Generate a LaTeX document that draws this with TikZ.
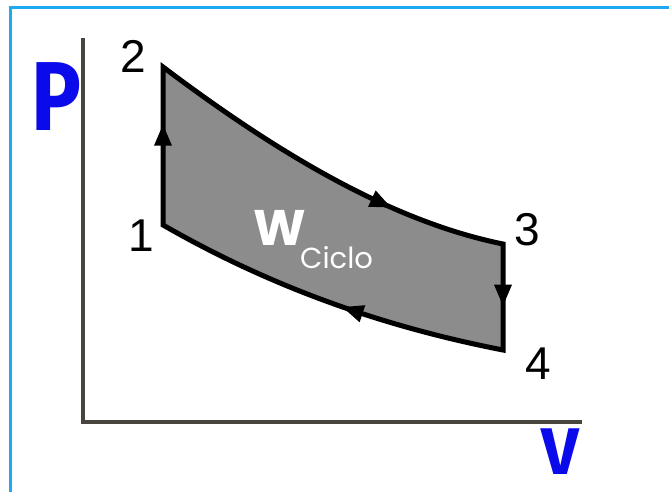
\documentclass[tikz,border=0pt]{standalone}
\usepackage{fontspec}
\setmainfont{Liberation Sans}
\newfontfamily\axisfont{Fira Sans}
\newfontfamily\wfont{Poppins}
\usetikzlibrary{shapes.geometric}
\definecolor{framecol}{RGB}{30,170,240}
\definecolor{cyclegray}{RGB}{140,140,140}
\definecolor{axiscol}{RGB}{72,68,62}
\definecolor{axisblue}{RGB}{10,10,235}
\tikzset{
  framestyle/.style={draw=framecol,line width=3pt},
  axisline/.style={draw=axiscol,line width=3.2pt},
  cycleline/.style={draw=black,line width=5pt,line join=miter},
  cyclefill/.style={fill=cyclegray},
  arrowtri/.style={isosceles triangle,isosceles triangle stretches,fill=black,
    minimum width=18pt,minimum height=21pt,inner sep=0pt,sloped,allow upside down},
  numlabel/.style={inner sep=0pt,font=\fontsize{46}{46}\selectfont},
  axislabel/.style={inner sep=0pt,text=axisblue},
  wlabel/.style={inner sep=0pt,text=white}
}
\begin{document}
\begin{tikzpicture}[x=1pt,y=-1pt]
\useasboundingbox (0,0) rectangle (669,492);
\fill[white] (0,0) rectangle (669,492);
\draw[framestyle] (10.5,492) -- (10.5,7.5) -- (669,7.5);
% axes
\coordinate (o) at (83,422);
\coordinate (ytop) at (83,38);
\coordinate (xend) at (582,422);
\draw[axisline] (ytop) -- (o) -- (xend);
% cycle points
\coordinate (p1) at (163,225);
\coordinate (p2) at (163,67);
\coordinate (p3) at (503,244);
\coordinate (p4) at (503,350);
\fill[cyclefill] (p1) -- (p2) .. controls (276,152) and (390,221) .. (p3) -- (p4) .. controls (390,328) and (276,290) .. (p1) -- cycle;
\draw[cycleline] (p1) -- (p2) .. controls (276,152) and (390,221) .. (p3) -- (p4) .. controls (390,328) and (276,290) .. (p1) -- cycle;
% flow arrows
\path (p1) -- (p2) node[arrowtri,pos=0.54] (a12) {};
\path (p2) .. controls (276,152) and (390,221) .. (p3) node[arrowtri,pos=0.63] (a23) {};
\path (p3) -- (p4) node[arrowtri,pos=0.44] (a34) {};
\path (p4) .. controls (390,328) and (276,290) .. (p1) node[arrowtri,pos=0.43] (a41) {};
% labels
\node[numlabel] (l1) at (141,236) {1};
\node[numlabel] (l2) at (133,56) {2};
\node[numlabel] (l3) at (527,230) {3};
\node[numlabel] (l4) at (538,364) {4};
\node[axislabel,font=\axisfont\bfseries\fontsize{98}{98}\selectfont,xscale=0.85] (P) at (56,97) {P};
\node[axislabel,font=\axisfont\bfseries\fontsize{66}{66}\selectfont] (V) at (560,452) {V};
\node[wlabel,anchor=base west,font=\wfont\bfseries\fontsize{50}{50}\selectfont] (W) at (253,245) {W};
\node[wlabel,anchor=base west,font=\wfont\fontsize{29}{29}\selectfont] (Wsub) at (300,268) {Ciclo};
\end{tikzpicture}
\end{document}
